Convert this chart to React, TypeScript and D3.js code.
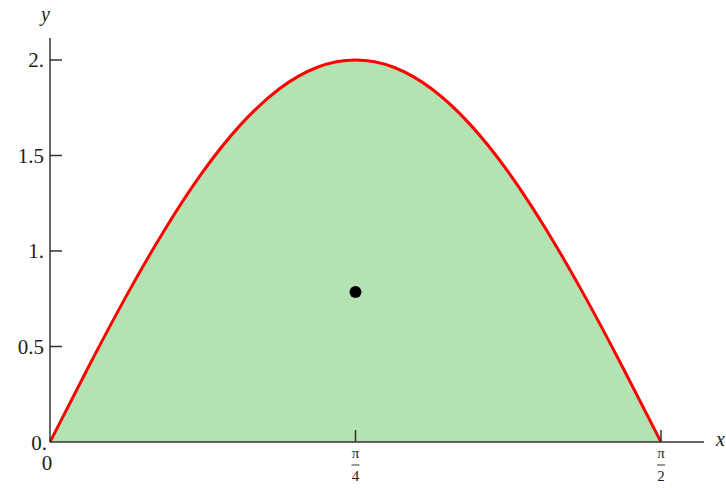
import React from "react";
import * as d3 from "d3";

// x positions in multiples of pi, y values
const xPoints = [0, 1/32, 2/32, 3/32, 4/32, 5/32, 6/32, 7/32, 8/32, 9/32, 10/32, 11/32, 12/32, 13/32, 14/32, 15/32, 16/32];
const yPoints = [0, 0.39, 0.765, 1.11, 1.414, 1.663, 1.848, 1.962, 2.0, 1.962, 1.848, 1.663, 1.414, 1.11, 0.765, 0.39, 0];
const centroid = { x: 0.25, y: 0.785 };

const yTicks = [0, 0.5, 1, 1.5, 2];
const yTickLabels = ["0.", "0.5", "1.", "1.5", "2."];
const xTicks = [0.25, 0.5];
const xTickDenoms = ["4", "2"];

const width = 726;
const height = 488;

const App = () => {
    const xScale = d3.scaleLinear().domain([0, 0.5]).range([50, 661]);
    const yScale = d3.scaleLinear().domain([0, 2]).range([442, 60]);

    const pts = xPoints.map((x, i) => ({ x, y: yPoints[i] }));

    const line = d3
        .line<{ x: number; y: number }>()
        .x(d => xScale(d.x))
        .y(d => yScale(d.y))
        .curve(d3.curveNatural);

    const area = d3
        .area<{ x: number; y: number }>()
        .x(d => xScale(d.x))
        .y0(() => yScale(0))
        .y1(d => yScale(d.y))
        .curve(d3.curveNatural);

    const font = "'Liberation Serif', 'Times New Roman', serif";
    const axisColor = "#333";

    return (
        <svg
            width={width}
            height={height}
            style={{ position: "absolute", left: 0, top: 0 }}
        >
            <path d={area(pts) || ""} fill="#b3e3b3" />
            <path d={line(pts) || ""} fill="none" stroke="#ff0000" strokeWidth={3} />

            {/* axes */}
            <line x1={50} y1={yScale(0)} x2={50} y2={38} stroke={axisColor} strokeWidth={1.5} />
            <line x1={50} y1={yScale(0)} x2={704} y2={yScale(0)} stroke={axisColor} strokeWidth={1.5} />

            {yTicks.map((t, i) => (
                <g key={t}>
                    {t > 0 && (
                        <line
                            x1={50}
                            x2={62}
                            y1={yScale(t)}
                            y2={yScale(t)}
                            stroke={axisColor}
                            strokeWidth={1.5}
                        />
                    )}
                    <text
                        x={t === 0 ? 47 : 44}
                        y={yScale(t) + 7 + (t === 0 ? 1 : 0)}
                        textAnchor="end"
                        fontFamily={font}
                        fontSize={21}
                        fill="#222"
                    >
                        {yTickLabels[i]}
                    </text>
                </g>
            ))}

            <text x={47} y={470} textAnchor="middle" fontFamily={font} fontSize={21} fill="#222">
                0
            </text>

            {xTicks.map((t, i) => (
                <g key={t}>
                    <line
                        x1={xScale(t)}
                        x2={xScale(t)}
                        y1={yScale(0)}
                        y2={yScale(0) - 12}
                        stroke={axisColor}
                        strokeWidth={1.5}
                    />
                    <text
                        x={xScale(t)}
                        y={458}
                        textAnchor="middle"
                        fontFamily={font}
                        fontSize={15}
                        fill="#222"
                    >
                        π
                    </text>
                    <line
                        x1={xScale(t) - 4}
                        x2={xScale(t) + 4}
                        y1={465}
                        y2={465}
                        stroke="#777"
                        strokeWidth={1.5}
                    />
                    <text
                        x={xScale(t)}
                        y={481}
                        textAnchor="middle"
                        fontFamily={font}
                        fontSize={15}
                        fill="#222"
                    >
                        {xTickDenoms[i]}
                    </text>
                </g>
            ))}

            <circle cx={xScale(centroid.x)} cy={yScale(centroid.y)} r={6} fill="#000" />

            <text x={716} y={446} fontFamily={font} fontStyle="italic" fontSize={20} fill="#222">
                x
            </text>
            <text x={41} y={21} fontFamily={font} fontStyle="italic" fontSize={20} fill="#222">
                y
            </text>
        </svg>
    );
};

export default App;
